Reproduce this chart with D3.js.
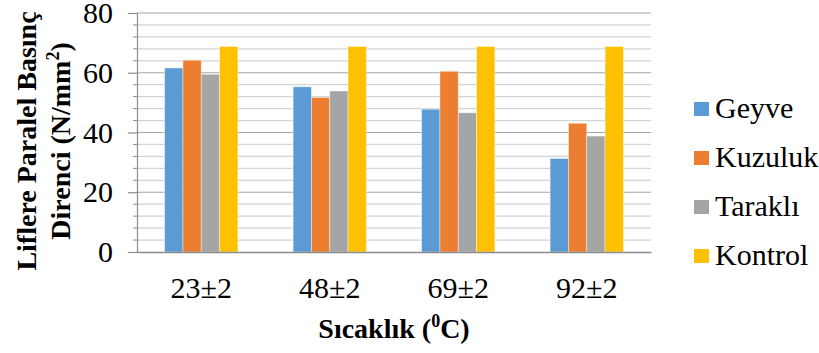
<!DOCTYPE html>
<html><head><meta charset="utf-8">
<script src="https://cdn.jsdelivr.net/npm/d3@7"></script>
<style>body{margin:0;background:#fff}svg{display:block}</style>
</head><body>
<svg id="c" width="819" height="353" font-family="Liberation Serif"></svg>
<script>
const categories = ["23±2", "48±2", "69±2", "92±2"];
const seriesNames = ["Geyve", "Kuzuluk", "Taraklı", "Kontrol"];
const geyve = [61.6, 55.3, 47.8, 31.3];
const kuzuluk = [64.2, 51.7, 60.5, 43.1];
const tarakli = [59.5, 53.9, 46.6, 38.8];
const kontrol = [68.8, 68.8, 68.8, 68.8];
const colors = ["#5B9BD5", "#ED7D31", "#A5A5A5", "#FFC000"];
const yTicks = [0, 20, 40, 60, 80];

const values = [geyve, kuzuluk, tarakli, kontrol];
const svg = d3.select("#c");
const FF = "Liberation Serif";
const L = 137, R = 651, T = 13, B = 252;

const y = d3.scaleLinear().domain([0, 80]).range([B, T]);
const x0 = d3.scaleBand().domain(categories).range([L, R]).padding(0);
const bw = x0.bandwidth();
const x1 = d3.scaleBand().domain(seriesNames).range([bw * 0.215, bw * 0.785]).padding(0);

// minor gridlines
const minor = d3.range(0, 81, 4).filter(v => v % 20 !== 0);
svg.append("g").selectAll("line").data(minor).join("line")
  .attr("x1", L).attr("x2", R).attr("y1", d => y(d)).attr("y2", d => y(d))
  .attr("stroke", "#d4d4d4").attr("stroke-width", 1.2);
svg.append("g").selectAll("line").data(yTicks.filter(v => v > 0)).join("line")
  .attr("x1", L).attr("x2", R).attr("y1", d => y(d)).attr("y2", d => y(d))
  .attr("stroke", "#a6a6a6").attr("stroke-width", 1.2);

// bars
const g = svg.append("g");
categories.forEach((c, i) => {
  seriesNames.forEach((s, j) => {
    g.append("rect")
      .attr("x", x0(c) + x1(s))
      .attr("y", y(values[j][i]))
      .attr("width", x1.bandwidth())
      .attr("height", y(0) - y(values[j][i]))
      .attr("fill", colors[j])
      .attr("stroke", "#fff").attr("stroke-opacity", 0.5).attr("stroke-width", 0.8);
  });
});

// y axis
const yAxis = d3.axisLeft(y).tickValues(yTicks).tickSize(9).tickPadding(15);
const ya = svg.append("g").attr("transform", `translate(${L},0)`).call(yAxis)
  .attr("font-family", FF).attr("font-size", 30);
ya.select(".domain").attr("stroke", "#8c8c8c").attr("stroke-width", 1.2);
ya.selectAll(".tick line").attr("stroke", "#8c8c8c").attr("stroke-width", 1.2);
ya.selectAll("text").attr("fill", "#000");
svg.append("g").selectAll("line").data(minor).join("line")
  .attr("x1", L - 4).attr("x2", L).attr("y1", d => y(d)).attr("y2", d => y(d))
  .attr("stroke", "#8c8c8c").attr("stroke-width", 1);

// x axis
const xAxis = d3.axisBottom(x0).tickSize(0);
const xa = svg.append("g").attr("transform", `translate(0,${B})`).call(xAxis)
  .attr("font-family", FF).attr("font-size", 30);
xa.select(".domain").attr("stroke", "#8c8c8c").attr("stroke-width", 1.5);
xa.selectAll("text").attr("fill", "#000").attr("dy", 0).attr("y", 46);

// y title
const yt = svg.append("text").attr("transform", "translate(36,141) rotate(-90)")
  .attr("text-anchor", "middle").attr("font-family", FF).attr("font-weight", "bold")
  .attr("font-size", 28).attr("fill", "#000");
yt.append("tspan").attr("x", 0).attr("dy", 0).text("Liflere Paralel Basınç");
yt.append("tspan").attr("x", 0).attr("dy", 34).text("Direnci (N/mm");
yt.append("tspan").attr("dy", -11).attr("font-size", 18).text("2");
yt.append("tspan").attr("dy", 11).text(")");

// x title
const xt = svg.append("text").attr("x", 394).attr("y", 338)
  .attr("text-anchor", "middle").attr("font-family", FF).attr("font-weight", "bold")
  .attr("font-size", 28).attr("fill", "#000");
xt.append("tspan").text("Sıcaklık (");
xt.append("tspan").attr("dy", -11).attr("font-size", 18).text("0");
xt.append("tspan").attr("dy", 11).text("C)");

// legend
const lg = svg.append("g");
seriesNames.forEach((s, j) => {
  const cy = 109 + j * 49;
  lg.append("rect").attr("x", 694).attr("y", cy - 7).attr("width", 15).attr("height", 14).attr("fill", colors[j]);
  lg.append("text").attr("x", 715).attr("y", cy + 9).attr("font-family", FF)
    .attr("font-size", 30).attr("fill", "#000").text(s);
});
</script>
</body></html>
